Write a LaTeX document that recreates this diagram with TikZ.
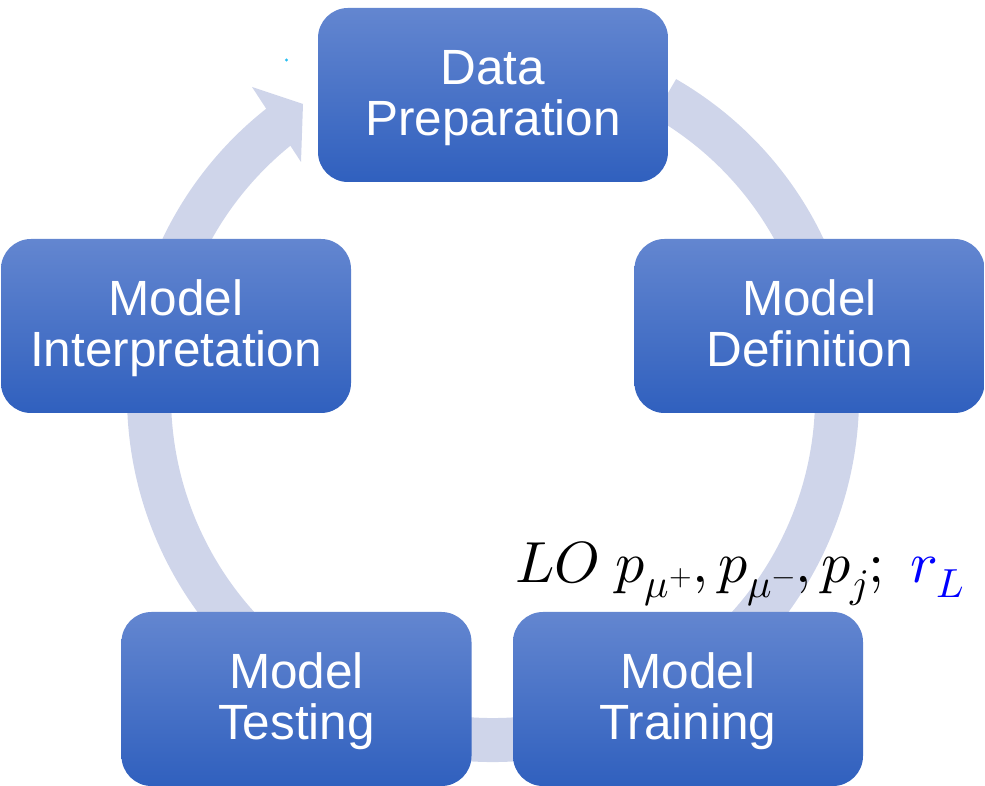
\documentclass[tikz,border=0pt]{standalone}
\usepackage{fontspec}
\setmainfont{Liberation Sans}
\usepackage{unicode-math}
\setmathfont{Latin Modern Math}
\definecolor{ringc}{RGB}{207,213,234}
\definecolor{boxtop}{RGB}{99,134,208}
\definecolor{boxbot}{RGB}{48,96,190}
\definecolor{dotc}{RGB}{40,190,240}
\tikzset{
  stagebox/.style={rounded corners=30pt, top color=boxtop, bottom color=boxbot,
    draw=none, minimum width=350pt, minimum height=174pt, text=white,
    align=center, font=\fontsize{49.5}{51}\selectfont, inner sep=0pt,
    text height=86pt, text depth=4pt},
  ringline/.style={draw=ringc, line width=44pt, line cap=butt},
}
\begin{document}
\begin{tikzpicture}[x=1pt,y=1pt]
\useasboundingbox (0,0) rectangle (985,786);
\coordinate (c) at (493,390);
% ring with arrow
\draw[ringline] ([shift={(60:344)}]c) arc[start angle=60, end angle=-232, radius=344];
\coordinate (h1) at (252,699);
\coordinate (h2) at (303,682);
\coordinate (h3) at (301,624);
\fill[ringc] (h1) -- (h2) -- (h3) -- cycle;
% tiny dot
\fill[dotc] (286.5,726) circle (1.6);
% boxes
\node[stagebox] (dp) at (493,691) {Data\\Preparation};
\node[stagebox] (md) at (809.5,460) {Model\\Definition};
\node[stagebox] (mtr) at (688,87) {Model\\Training};
\node[stagebox] (mte) at (296.5,87) {Model\\Testing};
\node[stagebox] (mi) at (176,460) {Model\\Interpretation};
% label
\node[anchor=base west, inner sep=0pt, font=\fontsize{58}{60}\selectfont] (lbl) at (515,203)
  {$LO\ p_{\mu^+},p_{\mu^-},p_j;\ \textcolor{blue}{r_L}$};
\end{tikzpicture}
\end{document}
